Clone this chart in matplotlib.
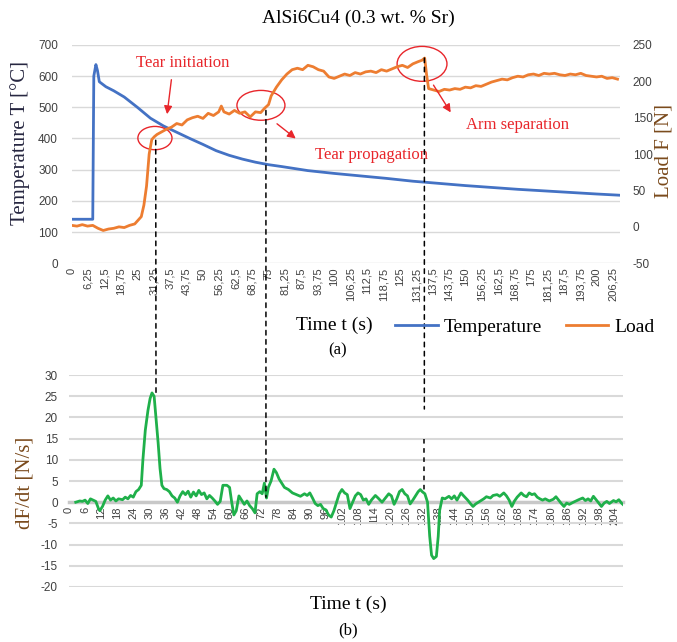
import matplotlib
matplotlib.use("Agg")
import matplotlib.pyplot as plt
from matplotlib.patches import Ellipse, ConnectionPatch
import numpy as np

plt.rcParams["axes.unicode_minus"] = False

# Temperature curve (left axis, degC)
temp_t = [0, 8, 8.4, 9.2, 9.8, 10.5, 13, 16, 20, 25, 30, 35, 40, 45, 50, 55, 60, 65, 70, 75,
          80, 90, 100, 110, 120, 130, 140, 150, 160, 170, 180, 190, 200, 209]
temp_v = [141, 141, 600, 637, 618, 582, 566, 553, 533, 500, 465, 440, 420, 400, 381, 361, 346,
          334, 324, 316, 310, 297, 288, 280, 272, 263, 256, 249, 243, 237, 232, 227, 222, 218]

# Load curve (right axis, N)
load_t = [0, 2, 4, 6, 8, 10, 12, 14, 16, 18, 20, 22, 24, 25.5, 26.5, 27.5, 28.5, 29.5, 30.5,
          31.5, 32.5, 34, 36, 38, 40, 42, 44, 46, 48, 50, 52, 54, 56, 57, 58, 60, 62, 64, 66,
          68, 70, 72, 73.5, 75, 76, 78, 80, 82, 84, 86, 88, 90, 92, 94, 96, 98, 100, 102, 104,
          106, 108, 110, 112, 114, 116, 118, 120, 122, 124, 126, 128, 130, 132, 133.5, 134.5,
          135.2, 136, 138, 140, 142, 144, 146, 148, 150, 152, 154, 156, 158, 160, 162, 164,
          166, 168, 170, 172, 174, 176, 178, 180, 182, 184, 186, 188, 190, 192, 194, 196, 198,
          200, 202, 204, 206, 208]
load_v = [2, 1, 3, 1, 2, -2, -5, -3, -2, 0, -1, 2, 4, 10, 14, 30, 56, 100, 120,
          124, 127, 130, 134, 137, 142, 140, 147, 150, 152, 149, 156, 153, 158, 166, 158, 155,
          160, 156, 158, 151, 158, 157, 163, 168, 180, 192, 202, 210, 216, 218, 216, 222, 220,
          216, 214, 206, 204, 207, 210, 208, 212, 210, 213, 214, 212, 216, 214, 217, 220, 222,
          219, 224, 227, 229, 232, 210, 190, 188, 186, 189, 188, 190, 189, 192, 191, 194, 193,
          196, 199, 201, 203, 202, 205, 207, 206, 209, 210, 208, 211, 210, 211, 209, 208, 210,
          209, 211, 208, 207, 206, 207, 204, 205, 203]

# dF/dt curve (N/s)
dfdt_t = [2.5, 4, 5, 6, 7, 8, 9, 10, 11, 11.5, 12.5, 13.5, 14.5, 15.5, 16.5, 17.5, 18.5, 20,
          21, 22, 23, 24, 25, 26, 27, 27.6, 28.5, 29.5, 30.3, 31, 31.8, 32.5, 33.3, 34, 34.7,
          35.5, 36.5, 37.5, 38.5, 39.5, 40.5, 41.5, 42.5, 43.5, 44.5, 45.5, 46.5, 47.5, 48.5,
          49.5, 50.5, 51.5, 52.5, 53.5, 54.5, 55.5, 56.5, 57.5, 59, 60, 60.8, 61.6, 62.5, 63.5,
          64.5, 65.5, 66.5, 67.5, 68.5, 69.5, 70.3, 71.3, 72.2, 73, 73.8, 74.5, 75.5, 76.6,
          77.5, 78.5, 79.5, 80.5, 82, 83.5, 85, 86.5, 88, 89, 90, 91, 92, 93, 94, 95, 96, 97,
          98, 99, 100, 101, 102, 103, 104, 105, 106, 107, 108, 109, 110, 111, 112, 113, 114.5,
          115.5, 117, 118, 119.5, 120.5, 121.5, 122.5, 123.5, 124.5, 125.5, 126.5, 127.5,
          128.5, 129.5, 130.5, 131.3, 132, 133, 134, 134.8, 135.5, 136.3, 137.3, 138, 138.5,
          139.5, 140.5, 142, 143, 144, 145, 146.5, 147.5, 149, 150, 151, 152, 153.5, 155, 156,
          157.5, 158.5, 160, 161, 162.5, 163.5, 164.5, 165.5, 166.5, 167.5, 169, 170, 171, 172,
          173, 174, 175, 176, 177, 178, 179.5, 181, 182, 183, 184, 185, 186, 187, 188.5, 189.5,
          190.5, 192, 193, 194, 195, 196, 197, 198, 199, 200, 201, 202, 203.5, 204.5, 205.5,
          206.5, 207]
dfdt_v = [0, 0.3, 0.2, 0.5, -0.3, 0.8, 0.5, 0.2, -1.5, -2, -1, 0.5, 1.5, 0.5, 1, 0.3, 0.8, 0.6,
          1.2, 0.8, 1.6, 1.2, 2.5, 3, 4, 10, 17, 21.7, 24.5, 25.8, 25, 20, 14, 8, 4,
          3.2, 3, 2.5, 1.5, 1, 0, 1.5, 2.5, 1.8, 2.6, 1.2, 2.4, 1.5, 2.8,
          1.8, 2.2, 0.8, 1.6, 1, 0.3, -0.5, 0.2, 4, 4, 3.5, 0, -3, -2, 1.5,
          0.5, -0.5, 0.3, -0.8, -1.5, -2.5, 2, 2.5, 2, 4.5, 1, 3.5, 5, 7.8,
          7, 5.5, 4.5, 3.5, 3, 2.2, 1.8, 1.4, 2, 1.6, 2.2, 1, -0.3, -0.8, -0.5, -1.5, -1.8, -3,
          -3.5, -2, 0, 2, 3, 2.2, 1.8, -1.5, 0, 1.5, 2.2, 1.8, 0.5, 0.8, -0.5, 0.5, 1.6,
          1, 0, 0.8, 2, 1.5, -0.5, 0.8, 2.5, 3, 2, 1.5, -0.4,
          0.5, 1.5, 2.5, 3, 2.5, 2, 0, -8, -12.5, -13.3, -12.8, -8, -2,
          1, 0.8, 1.4, 0.8, 1.5, 0.5, 2.2, 1.5, 0.5, -0.3, -1, -0.4, 0.2, 0.8, 1.3,
          1, 1.6, 1.8, 1.4, 2.2, 1.5, 0.5, -1, 0.3, 1.2, 2.2, 1.6, 1.3, 2.2,
          1.8, 2, 1.2, 0.8, 0.5, 0.8, 0.3, 0.7, 1.3, 0.5, -0.3, -1, -0.2, -0.5, 0, 0.3,
          0.6, 1, 0.4, 0.8, 0.3, 1.4, 0.6, -0.2, -1, -0.2, 0.2, -0.3, 0.4, 0.1, 0.6,
          -0.2, -0.5]

top_ticks = np.arange(0, 207, 6.25)
bot_ticks = np.arange(0, 205, 6)

serif = "Liberation Serif"
tick_font = "Liberation Sans"
grid_c = "#d9d9d9"
red = "#e8262b"

fig = plt.figure(figsize=(6.77, 6.42), dpi=100)


def fx(px):
    return px / 677


def fy(py):
    return 1 - py / 642


# ---- top chart (a)
ax1 = fig.add_axes([0.106, 0.590, 0.810, 0.340])
ax2 = ax1.twinx()
ax1.set_xlim(0, 209)
ax1.set_ylim(0, 700)
ax1.set_yticks(range(0, 701, 100))
ax2.set_ylim(-50, 250)
ax2.set_yticks(range(-50, 251, 50))
ax1.grid(axis="y", color=grid_c, lw=1)
ax1.set_axisbelow(True)
for a in (ax1, ax2):
    for s in a.spines.values():
        s.set_visible(False)
ax1.set_xticks(top_ticks)
ax1.set_xticklabels([f"{v:g}".replace(".", ",") for v in top_ticks], rotation=90,
                    fontsize=8, family=tick_font, color="#404040")
ax1.tick_params(axis="x", length=0, pad=3)
ax1.tick_params(axis="y", length=0, pad=10, labelsize=8.5, labelcolor="#404040")
ax2.tick_params(axis="y", length=0, pad=9, labelsize=8.5, labelcolor="#404040")
for lab in ax1.get_yticklabels() + ax2.get_yticklabels():
    lab.set_family(tick_font)

l_temp, = ax1.plot(temp_t, temp_v, color="#4472c4", lw=2, label="Temperature")
l_load, = ax2.plot(load_t, load_v, color="#ed7d31", lw=2, label="Load")

# circles, arrows and notes
for cx, cy, w, h in [(31.7, 122, 13, 32), (72.1, 167, 18.3, 41), (133.5, 224, 19, 48)]:
    ax2.add_patch(Ellipse((cx, cy), w, h, fill=False, ec=red, lw=1))
arrow = dict(arrowstyle="-|>", color=red, lw=1, mutation_scale=12)
ax2.annotate("", xy=(36.2, 151), xytext=(38.1, 206), arrowprops=arrow)
ax2.annotate("", xy=(86.2, 119), xytext=(77.4, 144), arrowprops=arrow)
ax2.annotate("", xy=(145, 154), xytext=(137.3, 198), arrowprops=arrow)
ax2.text(42.3, 225, "Tear initiation", color=red, family=serif, fontsize=12,
         ha="center", va="center")
ax2.text(114.4, 99, "Tear propagation", color=red, family=serif, fontsize=12,
         ha="center", va="center")
ax2.text(169.7, 140, "Arm separation", color=red, family=serif, fontsize=12,
         ha="center", va="center")

# ---- bottom chart (b)
ax3 = fig.add_axes([0.102, 0.0857, 0.818, 0.330])
ax3.set_xlim(0, 207)
ax3.set_ylim(-20, 30)
ax3.set_yticks(range(-20, 31, 5))
ax3.grid(axis="y", color=grid_c, lw=1.5)
ax3.set_axisbelow(True)
for k in ("top", "right", "left"):
    ax3.spines[k].set_visible(False)
ax3.spines["bottom"].set_position(("data", 0))
ax3.spines["bottom"].set_color("#c8c8c8")
ax3.spines["bottom"].set_linewidth(2.5)
ax3.set_xticks(bot_ticks)
ax3.set_xticklabels([str(v) for v in bot_ticks], rotation=90, fontsize=8,
                    family=tick_font, color="#404040")
ax3.tick_params(axis="x", length=0, pad=3)
ax3.tick_params(axis="y", length=0, pad=8, labelsize=8.5, labelcolor="#404040")
for lab in ax3.get_yticklabels():
    lab.set_family(tick_font)
ax3.plot(dfdt_t, dfdt_v, color="#1fb04a", lw=2, zorder=3)

# dashed guide lines from the load curve down to dF/dt
dash = dict(color="black", lw=1.1, linestyle=(0, (3, 3)))
for ta, la, tb, vb in [(32, 119, 32.5, 25.8), (74, 160, 73.6, 1.2), (134.4, 232, 132.8, 22)]:
    con = ConnectionPatch((ta, la), (tb, vb), coordsA="data", coordsB="data",
                          axesA=ax2, axesB=ax3, **dash)
    fig.add_artist(con)
ax3.plot([132.8, 132.8], [15, 2], **dash)

# ---- texts
fig.text(fx(358), fy(18), "AlSi6Cu4 (0.3 wt. % Sr)", family=serif, fontsize=14,
         ha="center", va="center")
fig.text(fx(20), fy(143), "Temperature T [°C]", family=serif, fontsize=15,
         rotation=90, ha="center", va="center", color="#262640")
fig.text(fx(664), fy(151), "Load F [N]", family=serif, fontsize=15,
         rotation=90, ha="center", va="center", color="#7a4a1c")
fig.text(fx(25), fy(483), "dF/dt [N/s]", family=serif, fontsize=15,
         rotation=90, ha="center", va="center", color="#7a4a1c")
fig.text(fx(334), fy(325), "Time t (s)", family=serif, fontsize=14, ha="center", va="center")
fig.text(fx(338), fy(350), "(a)", family=serif, fontsize=12, ha="center", va="center")
fig.text(fx(348), fy(604), "Time t (s)", family=serif, fontsize=14, ha="center", va="center")
fig.text(fx(348), fy(630), "(b)", family=serif, fontsize=12, ha="center", va="center")

fig.legend(handles=[l_temp, l_load], loc="center", bbox_to_anchor=(fx(525), fy(327)),
           ncol=2, frameon=False, handlelength=2.2, handletextpad=0.3, columnspacing=1.2,
           prop={"family": serif, "size": 14})

fig.savefig("out.png", dpi=100)
